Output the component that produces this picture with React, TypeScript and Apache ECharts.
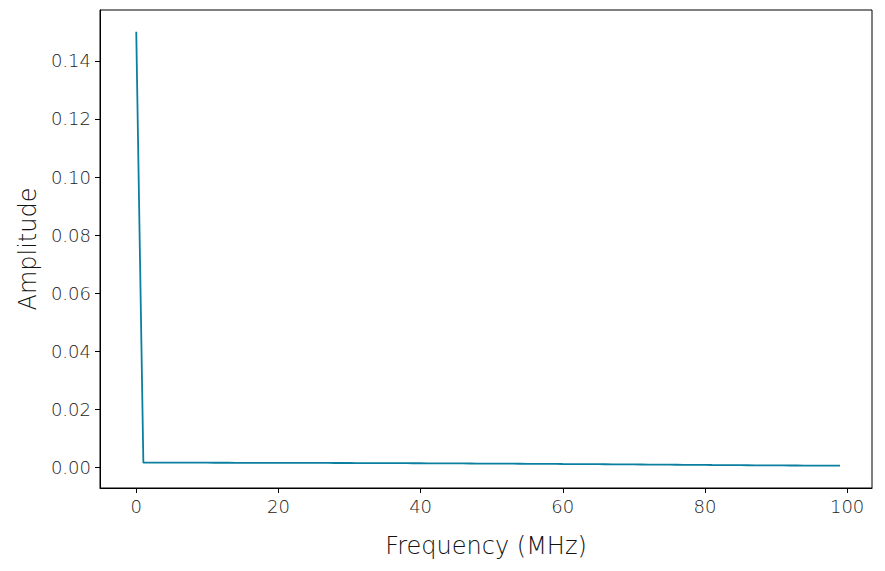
import React, { useEffect, useRef } from 'react';
import * as echarts from 'echarts';

// Frequency bins (MHz)
const frequencies: number[] = [
  0, 1, 2, 3, 4, 5, 6, 7, 8, 9,
  10, 11, 12, 13, 14, 15, 16, 17, 18, 19,
  20, 21, 22, 23, 24, 25, 26, 27, 28, 29,
  30, 31, 32, 33, 34, 35, 36, 37, 38, 39,
  40, 41, 42, 43, 44, 45, 46, 47, 48, 49,
  50, 51, 52, 53, 54, 55, 56, 57, 58, 59,
  60, 61, 62, 63, 64, 65, 66, 67, 68, 69,
  70, 71, 72, 73, 74, 75, 76, 77, 78, 79,
  80, 81, 82, 83, 84, 85, 86, 87, 88, 89,
  90, 91, 92, 93, 94, 95, 96, 97, 98, 99
];

// Spectrum amplitude
const amplitudes: number[] = [
  0.150,
  0.00172, 0.00172, 0.00172, 0.00171, 0.00171, 0.00171, 0.00171, 0.00170, 0.00170, 0.00170,
  0.00169, 0.00169, 0.00169, 0.00168, 0.00168, 0.00168, 0.00167, 0.00167, 0.00166, 0.00166,
  0.00165, 0.00165, 0.00164, 0.00164, 0.00163, 0.00162, 0.00162, 0.00161, 0.00160, 0.00160,
  0.00159, 0.00158, 0.00157, 0.00157, 0.00156, 0.00155, 0.00154, 0.00153, 0.00152, 0.00151,
  0.00150, 0.00149, 0.00148, 0.00147, 0.00146, 0.00145, 0.00144, 0.00142, 0.00141, 0.00140,
  0.00139, 0.00137, 0.00136, 0.00135, 0.00133, 0.00132, 0.00131, 0.00129, 0.00128, 0.00126,
  0.00125, 0.00123, 0.00122, 0.00120, 0.00119, 0.00117, 0.00115, 0.00114, 0.00112, 0.00110,
  0.00109, 0.00107, 0.00105, 0.00104, 0.00102, 0.00100, 0.00098, 0.00097, 0.00095, 0.00093,
  0.00091, 0.00090, 0.00088, 0.00086, 0.00085, 0.00083, 0.00081, 0.00080, 0.00078, 0.00077,
  0.00076, 0.00075, 0.00074, 0.00073, 0.00072, 0.00071, 0.00070, 0.00070, 0.00069
];

const xTicks: number[] = [0, 20, 40, 60, 80, 100];
const yTicks: number[] = [0, 0.02, 0.04, 0.06, 0.08, 0.1, 0.12, 0.14];

const FONT = '"DejaVu Sans", sans-serif';

const App: React.FC = () => {
  const chartRef = useRef<HTMLDivElement>(null);

  useEffect(() => {
    if (!chartRef.current) return;
    const chart = echarts.init(chartRef.current, undefined, { renderer: 'svg' });

    const option: echarts.EChartsOption = {
      animation: false,
      backgroundColor: '#ffffff',
      grid: {
        left: 100,
        right: 13,
        top: 10,
        bottom: 83,
        show: true,
        borderColor: '#000000',
        borderWidth: 1,
        backgroundColor: 'transparent'
      },
      xAxis: {
        type: 'value',
        min: -5.1,
        max: 103.5,
        name: 'Frequency (MHz)',
        nameLocation: 'middle',
        nameGap: 46,
        nameTextStyle: { fontFamily: FONT, fontWeight: 200, fontSize: 24, color: '#111' },
        axisLine: { show: true, onZero: false, lineStyle: { color: '#000', width: 1 } },
        axisTick: { show: true, length: 5, lineStyle: { color: '#000' }, customValues: xTicks },
        axisLabel: {
          margin: 9,
          fontFamily: FONT,
          fontWeight: 200,
          fontSize: 18,
          color: '#222',
          customValues: xTicks,
          formatter: (v: number) => String(v)
        },
        splitLine: { show: false }
      },
      yAxis: {
        type: 'value',
        min: -0.007,
        max: 0.1575,
        name: 'Amplitude',
        nameLocation: 'middle',
        nameGap: 60,
        nameRotate: 90,
        nameTextStyle: { fontFamily: FONT, fontWeight: 200, fontSize: 24, color: '#111' },
        axisLine: { show: true, onZero: false, lineStyle: { color: '#000', width: 1 } },
        axisTick: { show: true, length: 5, lineStyle: { color: '#000' }, customValues: yTicks },
        axisLabel: {
          margin: 9,
          fontFamily: FONT,
          fontWeight: 200,
          fontSize: 18,
          color: '#222',
          customValues: yTicks,
          formatter: (v: number) => v.toFixed(2)
        },
        splitLine: { show: false }
      },
      series: [
        {
          type: 'line',
          data: frequencies.map((f, i) => [f, amplitudes[i]]),
          showSymbol: false,
          symbol: 'none',
          lineStyle: { color: '#0b7f9f', width: 1.8 },
          itemStyle: { color: '#0b7f9f' }
        }
      ]
    };

    chart.setOption(option);
    return () => {
      chart.dispose();
    };
  }, []);

  return (
    <div
      ref={chartRef}
      style={{ position: 'fixed', left: 0, top: 0, width: '885px', height: '571px', background: '#fff' }}
    />
  );
};

export default App;
